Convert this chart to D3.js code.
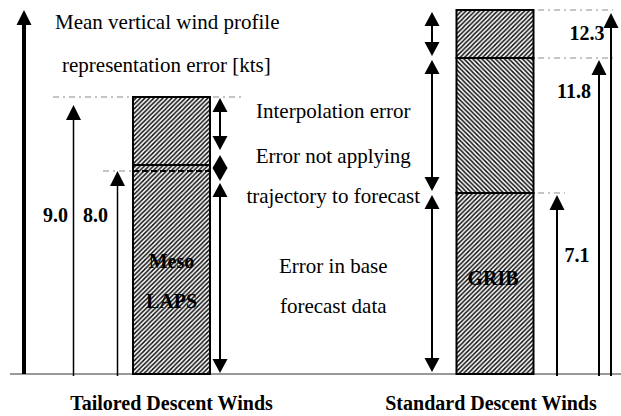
<!DOCTYPE html>
<html lang="en">
<head>
<meta charset="utf-8">
<script src="https://d3js.org/d3.v7.min.js"></script>
<style>
  body { margin: 0; background: #fff; }
  text { font-family: "Liberation Serif", "Times New Roman", serif; fill: #000; }
</style>
</head>
<body>
<script>
    var categories = ["Tailored Descent Winds", "Standard Descent Winds"];
    var barNames = [["Meso", "LAPS"], ["GRIB"]];

    // cumulative error [kts]: base forecast, + trajectory, + interpolation
    var tailoredLevels = [8.0, 8.0, 9.0];
    var standardLevels = [7.1, 11.8, 12.3];

    var tailoredLabels = ["8.0", "9.0"];
    var standardLabels = ["7.1", "11.8", "12.3"];

    var axisTitle = ["Mean vertical wind profile", "representation error [kts]"];
    var errorNotes = ["Interpolation error", "Error not applying", "trajectory to forecast",
                      "Error in base", "forecast data"];

    var width = 621, height = 416,
        base = 374,
        barWidth = 77;

    var svg = d3.select("body")
        .append("svg")
        .attr("width", width)
        .attr("height", height);

    // schematic axis, not to scale: small segments are drawn taller
    var levels = Array.from(new Set([0].concat(tailoredLevels, standardLevels))).sort(d3.ascending);
    var y = d3.scaleLinear()
        .domain(levels)
        .range([0, 181, 203, 277, 316, 364].map(function (h) { return base - h; }));

    var x = d3.scalePoint()
        .domain(categories)
        .range([171.5, 495]);

    var defs = svg.append("defs");
    function hatch(id, dir) {
        var p = defs.append("pattern")
            .attr("id", id)
            .attr("patternUnits", "userSpaceOnUse")
            .attr("width", 4.5).attr("height", 4.5);
        p.append("rect").attr("width", 4.5).attr("height", 4.5).attr("fill", "#fff");
        p.append("path")
            .attr("d", dir > 0 ? "M-1,1 l2,-2 M0,4.5 l4.5,-4.5 M3.5,5.5 l2,-2"
                               : "M-1,3.5 l2,2 M0,0 l4.5,4.5 M3.5,-1 l2,2")
            .attr("stroke", "#111")
            .attr("stroke-width", 1.5);
    }
    hatch("fwd", 1);
    hatch("back", -1);

    function head(xc, tip, dir, w, h) {
        // dir -1: pointing up, +1: pointing down
        svg.append("path")
            .attr("d", "M" + xc + "," + tip + "L" + (xc - w / 2) + "," + (tip - dir * h) +
                       "L" + (xc + w / 2) + "," + (tip - dir * h) + "Z")
            .attr("fill", "#000");
    }
    function vline(xc, y1, y2, lw) {
        svg.append("line")
            .attr("x1", xc).attr("x2", xc)
            .attr("y1", y1).attr("y2", y2)
            .attr("stroke", "#000").attr("stroke-width", lw);
    }
    function upArrow(xc, tip, lw) {
        vline(xc, base + 2, tip + 10, lw);
        head(xc, tip, -1, 15, 15);
    }
    function dblArrow(xc, top, bottom) {
        vline(xc, top + 8, bottom - 8, 2);
        head(xc, top, -1, 15, 14);
        head(xc, bottom, 1, 15, 14);
    }
    function guide(x1, x2, yy) {
        svg.append("line")
            .attr("x1", x1).attr("x2", x2)
            .attr("y1", yy).attr("y2", yy)
            .attr("stroke", "#b3b3b3").attr("stroke-width", 1.5)
            .attr("stroke-dasharray", "6,4,2,4");
    }
    function label(txt, xc, yy, bold, anchor) {
        svg.append("text")
            .attr("x", xc).attr("y", yy)
            .attr("text-anchor", anchor || "middle")
            .attr("font-size", bold ? 20 : 21)
            .attr("font-weight", bold ? "bold" : "normal")
            .text(txt);
    }

    // baseline and main axis arrow
    svg.append("line")
        .attr("x1", 10).attr("x2", width)
        .attr("y1", base).attr("y2", base)
        .attr("stroke", "#777").attr("stroke-width", 1.5);
    vline(24, base, 22, 4);
    head(24, 10, -1, 15, 15);
    label(axisTitle[0], 55, 29, false, "start");
    label(axisTitle[1], 62, 72, false, "start");

    // ---- Tailored bar ----
    var cL = x(categories[0]), l0 = cL - barWidth / 2, l1 = cL + barWidth / 2;
    guide(53, 245, y(tailoredLevels[2]));
    guide(103, 225, y(tailoredLevels[0]));

    svg.append("rect")
        .attr("x", l0).attr("y", y(tailoredLevels[2]))
        .attr("width", barWidth).attr("height", y(0) - y(tailoredLevels[2]))
        .attr("fill", "url(#fwd)").attr("stroke", "#000").attr("stroke-width", 2);
    svg.append("line")
        .attr("x1", l0).attr("x2", l1)
        .attr("y1", y(tailoredLevels[1]) - 6).attr("y2", y(tailoredLevels[1]) - 6)
        .attr("stroke", "#000").attr("stroke-width", 2);
    svg.append("line")
        .attr("x1", l0).attr("x2", l1)
        .attr("y1", y(tailoredLevels[0])).attr("y2", y(tailoredLevels[0]))
        .attr("stroke", "#000").attr("stroke-width", 1.8)
        .attr("stroke-dasharray", "6,3");

    upArrow(cL - 98, y(tailoredLevels[2]) + 8, 1.5);
    upArrow(cL - 54, y(tailoredLevels[0]), 1.5);
    label(tailoredLabels[1], cL - 116, 222, true);
    label(tailoredLabels[0], cL - 76, 222, true);

    var xa = l1 + 10, dc = y(tailoredLevels[1]) - 3;
    dblArrow(xa, y(tailoredLevels[2]) + 1, dc - 18);
    head(xa, dc - 13, -1, 15, 13);
    head(xa, dc + 13, 1, 15, 13);
    dblArrow(xa, dc + 15, y(0) - 1);

    barNames[0].forEach(function (n, i) { label(n, cL, 268 + i * 40, true); });

    // ---- Standard bar ----
    var cR = x(categories[1]), r0 = cR - barWidth / 2, r1 = cR + barWidth / 2;
    guide(538, 613, y(standardLevels[2]));
    guide(538, 613, y(standardLevels[1]));
    guide(538, 565, y(standardLevels[0]));

    var segs = [[0, standardLevels[0], "fwd"], [standardLevels[0], standardLevels[1], "back"],
                [standardLevels[1], standardLevels[2], "fwd"]];
    segs.forEach(function (s) {
        svg.append("rect")
            .attr("x", r0).attr("y", y(s[1]))
            .attr("width", barWidth).attr("height", y(s[0]) - y(s[1]))
            .attr("fill", "url(#" + s[2] + ")").attr("stroke", "#000").attr("stroke-width", 2);
        dblArrow(cR - 63, y(s[1]) + 2, y(s[0]) - 2);
    });

    upArrow(cR + 62, y(standardLevels[0]) + 2, 2);
    upArrow(cR + 104, y(standardLevels[1]) + 2, 2);
    upArrow(cR + 116, y(standardLevels[2]) + 3, 2);
    label(standardLabels[0], cR + 82, 262, true);
    label(standardLabels[1], cR + 79, 98, true);
    label(standardLabels[2], cR + 92, 40, true);

    label(barNames[1][0], cR - 2, 285, true);

    // ---- notes between the bars ----
    var mid = (cL + cR) / 2;
    var noteY = [118, 163, 203, 273, 313];
    errorNotes.forEach(function (n, i) { label(n, mid, noteY[i], false); });

    // ---- category labels ----
    categories.forEach(function (c, i) {
        label(c, x(c) - (i ? 4 : 0), 410, true);
    });
</script>
</body>
</html>
